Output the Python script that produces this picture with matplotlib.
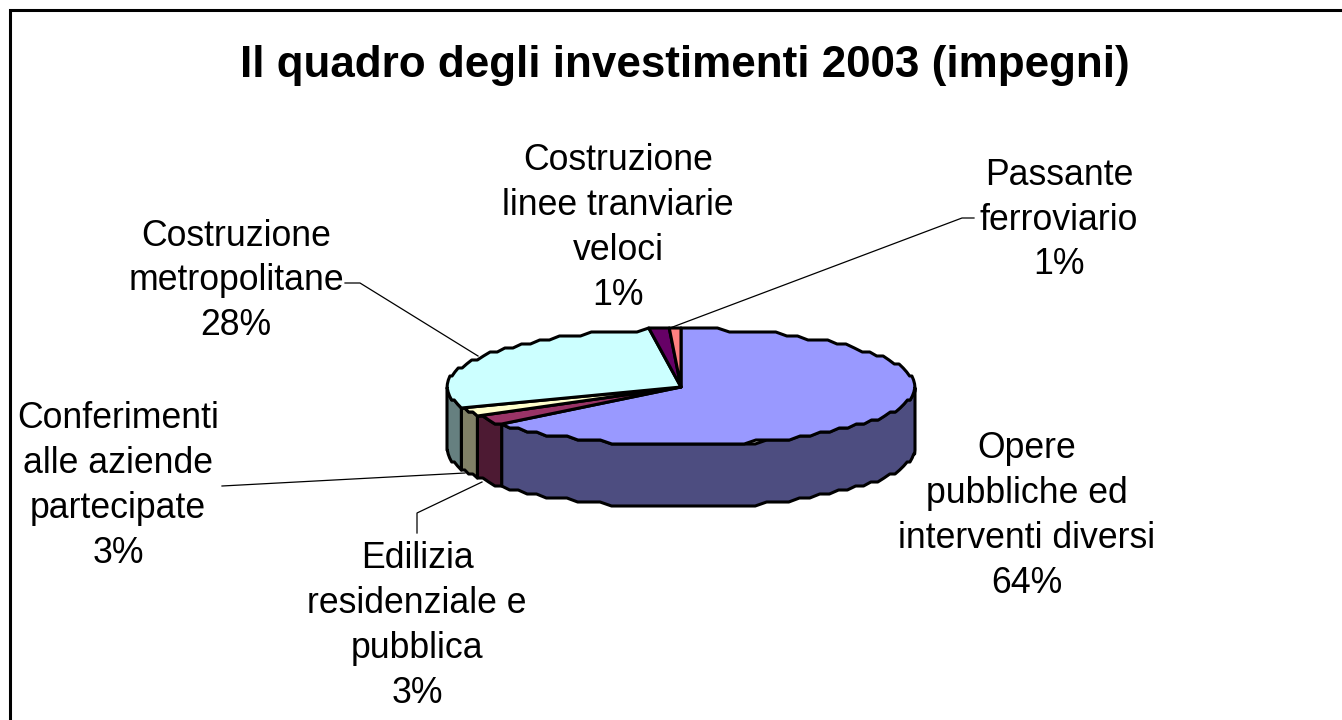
import numpy as np
import matplotlib
matplotlib.use('Agg')
import matplotlib.pyplot as plt
from matplotlib.patches import Polygon

plt.rcParams['font.family'] = ['Liberation Sans', 'DejaVu Sans']

titolo = 'Il quadro degli investimenti 2003 (impegni)'
voci = ['Opere\npubbliche ed\ninterventi diversi', 'Edilizia\nresidenziale e\npubblica',
        'Conferimenti\nalle aziende\npartecipate', 'Costruzione\nmetropolitane',
        'Costruzione\nlinee tranviarie\nveloci', 'Passante\nferroviario']
valori = [63.9, 2.9, 2.6, 28.4, 1.4, 0.8]
col_sopra = ['#9999FF', '#993366', '#FFFFCC', '#CCFFFF', '#660066', '#FF8080']
col_lato = ['#4D4D80', '#4D1A33', '#808066', '#668080', '#330033', '#804040']

# posizione etichette in pixel
pos_testo = [(1027, 516), (417, 626), (118, 486), (236, 281), (618, 228), (1059, 220)]
guide = [None,
         [(417, 533), (417, 513), (482, 482)],
         [(222, 486), (465, 473)],
         [(345, 283), (360, 283), (478, 356)],
         None,
         [(974, 218), (962, 218), (670, 328)]]

cx, cy, rx, ry, prof = 681, 387, 234, 58, 62


def bordo(a):
    # a in gradi, senso orario da ore 12; y a gradini come nell'originale
    a = np.radians(a)
    x = cx + rx * np.sin(a)
    y = cy - ry * np.cos(a)
    return x, np.round(y / 4) * 4


def archi(a0, a1):
    n = max(2, int(abs(a1 - a0) / 3) + 2)
    return np.linspace(a0, a1, n)


fig = plt.figure(figsize=(13.42, 7.2), dpi=100, facecolor='white')
ax = fig.add_axes([0, 0, 1, 1])
ax.set_xlim(0, 1342)
ax.set_ylim(720, 0)
ax.axis('off')

# cornice aperta a destra e in basso
ax.plot([10, 10, 1342], [720, 10, 10], color='black', lw=2.2, solid_joinstyle='miter')

ax.text(685, 65, titolo, fontsize=31.7, fontweight='bold', ha='center', va='center')

fine = np.cumsum(valori) / sum(valori) * 360
inizio = np.concatenate([[0], fine[:-1]])

# lati: solo la parte davanti (da 90 a 270 gradi)
for i in range(len(valori)):
    a0 = max(inizio[i], 90)
    a1 = min(fine[i], 270)
    if a1 <= a0:
        continue
    x, y = bordo(archi(a0, a1))
    pts = list(zip(x, y)) + list(zip(x[::-1], y[::-1] + prof))
    ax.add_patch(Polygon(pts, closed=True, fc=col_lato[i], ec='black', lw=2.2, joinstyle='round'))

# spicchi sopra
for i in range(len(valori)):
    x, y = bordo(archi(inizio[i], fine[i]))
    pts = [(cx, cy)] + list(zip(x, y))
    ax.add_patch(Polygon(pts, closed=True, fc=col_sopra[i], ec='black', lw=2.2, joinstyle='round'))

for i, voce in enumerate(voci):
    testo = voce + '\n' + f'{valori[i]:.0f}%'
    ax.text(pos_testo[i][0], pos_testo[i][1], testo, fontsize=25.7, ha='center', va='center',
            linespacing=1.37, color='black')
    if guide[i]:
        gx, gy = zip(*guide[i])
        ax.plot(gx, gy, color='black', lw=0.9)

fig.savefig('out.png', dpi=100)
